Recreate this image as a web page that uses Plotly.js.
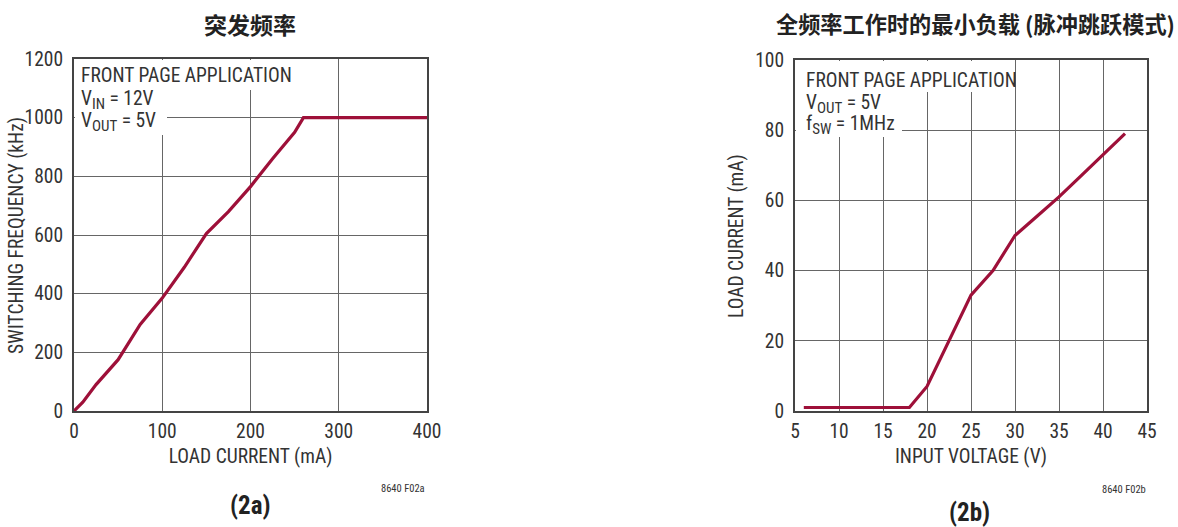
<!DOCTYPE html>
<html>
<head>
<meta charset="utf-8">
<script src="https://cdn.plot.ly/plotly-3.0.1.min.js"></script>
<style>html,body{margin:0;padding:0;background:#fff;}#chart{width:1178px;height:527px;}</style>
</head>
<body>
<div id="chart"></div>
<script>
// Chart (2a): switching frequency vs load current
const loadCurrentA = [0, 10, 25, 50, 75, 100, 125, 150, 175, 200, 225, 250, 260, 400];
const switchingFreqA = [0, 30, 90, 175, 295, 385, 490, 605, 680, 765, 860, 950, 1000, 1000];
const xTicksA = [0, 100, 200, 300, 400];
const yTicksA = [0, 200, 400, 600, 800, 1000, 1200];

// Chart (2b): minimum load current vs input voltage
const inputVoltageB = [6, 18, 20, 25, 27.5, 30, 32.5, 35, 37.5, 40, 42.5];
const loadCurrentB = [1, 1, 7, 33, 40, 50, 55.5, 61, 67, 73, 79];
const xTicksB = [5, 10, 15, 20, 25, 30, 35, 40, 45];
const yTicksB = [0, 20, 40, 60, 80, 100];

const titleA = '突发频率';
const titleB = '全频率工作时的最小负载 (脉冲跳跃模式)';

const W = 1178, H = 527;
const NARROW = '"Liberation Sans Narrow", "Arial Narrow", "Roboto Condensed", Roboto, sans-serif';
const CJK = '"Noto Sans CJK SC", "Noto Sans", sans-serif';
const TXT = '#333333';
const LINE = '#9e1039';
const GRID = '#666666';
const BORDER = '#444444';
const FS = 19.5;

const px = v => v / W;
const py = v => 1 - v / H;

const axisCommon = {
  showgrid: true, gridcolor: GRID, gridwidth: 1,
  zeroline: false,
  showline: true, linecolor: BORDER, linewidth: 2, mirror: true,
  ticks: 'outside', tickcolor: 'rgba(0,0,0,0)',
  tickfont: {family: NARROW, size: FS, color: TXT},
  fixedrange: true
};
const xCommon = Object.assign({}, axisCommon, {ticklen: 2});
const yCommon = Object.assign({}, axisCommon, {ticklen: 5});

const traces = [
  {x: loadCurrentA, y: switchingFreqA, xaxis: 'x', yaxis: 'y', mode: 'lines',
   line: {color: LINE, width: 3.2}, hoverinfo: 'skip', showlegend: false},
  {x: inputVoltageB, y: loadCurrentB, xaxis: 'x2', yaxis: 'y2', mode: 'lines',
   line: {color: LINE, width: 3.2}, hoverinfo: 'skip', showlegend: false}
];

function sub(s) { return '<sub><span style="font-size:15px">' + s + '</span></sub>'; }

function note(xref, yref, x, y, text) {
  return {xref: xref, yref: yref, x: x, y: y, text: text, showarrow: false,
    xanchor: 'left', yanchor: 'middle', align: 'left', borderpad: 0,
    font: {family: NARROW, size: FS, color: TXT}};
}

// white masks behind the in-plot notes (pixel boxes)
function mask(x0, y0, x1, y1) {
  return {type: 'rect', xref: 'paper', yref: 'paper', layer: 'above',
    x0: px(x0), x1: px(x1), y0: py(y1), y1: py(y0),
    fillcolor: '#ffffff', line: {width: 0}};
}

const layout = {
  width: W, height: H,
  margin: {l: 0, r: 0, t: 0, b: 0},
  paper_bgcolor: '#ffffff', plot_bgcolor: '#ffffff',
  showlegend: false,
  font: {family: NARROW, color: TXT},
  xaxis: Object.assign({}, xCommon, {
    domain: [px(74), px(427)], range: [0, 400], tickvals: xTicksA, anchor: 'y',
    title: {text: 'LOAD CURRENT (mA)', font: {family: NARROW, size: FS, color: TXT}, standoff: 7}
  }),
  yaxis: Object.assign({}, yCommon, {
    domain: [py(411), py(59)], range: [0, 1200], tickvals: yTicksA, anchor: 'x'
  }),
  xaxis2: Object.assign({}, xCommon, {
    domain: [px(795), px(1147)], range: [5, 45], tickvals: xTicksB, anchor: 'y2',
    title: {text: 'INPUT VOLTAGE (V)', font: {family: NARROW, size: FS, color: TXT}, standoff: 7}
  }),
  yaxis2: Object.assign({}, yCommon, {
    domain: [py(411), py(60)], range: [0, 100], tickvals: yTicksB, anchor: 'x2'
  }),
  shapes: [
    mask(75, 60, 292, 90), mask(75, 90, 167, 135),
    mask(796, 61, 1014, 92), mask(796, 92, 902, 137)
  ],
  annotations: [
    {xref: 'paper', yref: 'paper', x: px(250), y: py(24), text: '<b>' + titleA + '</b>', showarrow: false,
     xanchor: 'center', yanchor: 'middle', font: {family: CJK, size: 23, color: '#222222'}},
    {xref: 'paper', yref: 'paper', x: px(975), y: py(23), text: '<b>' + titleB + '</b>', showarrow: false,
     xanchor: 'center', yanchor: 'middle', font: {family: CJK, size: 22.2, color: '#222222'}},
    {xref: 'paper', yref: 'paper', x: px(17), y: py(236), text: 'SWITCHING FREQUENCY (kHz)', textangle: -90,
     showarrow: false, xanchor: 'center', yanchor: 'middle', font: {family: NARROW, size: FS, color: TXT}},
    {xref: 'paper', yref: 'paper', x: px(737), y: py(236), text: 'LOAD CURRENT (mA)', textangle: -90,
     showarrow: false, xanchor: 'center', yanchor: 'middle', font: {family: NARROW, size: FS, color: TXT}},
    note('x domain', 'y domain', 0.017, 0.953, 'FRONT PAGE APPLICATION'),
    note('x domain', 'y domain', 0.017, 0.884, 'V' + sub('IN') + ' = 12V'),
    note('x domain', 'y domain', 0.017, 0.822, 'V' + sub('OUT') + ' = 5V'),
    note('x2 domain', 'y2 domain', 0.028, 0.943, 'FRONT PAGE APPLICATION'),
    note('x2 domain', 'y2 domain', 0.028, 0.876, 'V' + sub('OUT') + ' = 5V'),
    note('x2 domain', 'y2 domain', 0.028, 0.815, 'f' + sub('SW') + ' = 1MHz'),
    {xref: 'paper', yref: 'paper', x: px(250), y: py(505), text: '<b>(2a)</b>', showarrow: false,
     xanchor: 'center', yanchor: 'middle', font: {family: NARROW, size: 25, color: '#222222'}},
    {xref: 'paper', yref: 'paper', x: px(969), y: py(512), text: '<b>(2b)</b>', showarrow: false,
     xanchor: 'center', yanchor: 'middle', font: {family: NARROW, size: 25, color: '#222222'}},
    {xref: 'paper', yref: 'paper', x: px(403), y: py(488), text: '8640 F02a', showarrow: false,
     xanchor: 'center', yanchor: 'middle', font: {family: NARROW, size: 10.5, color: TXT}},
    {xref: 'paper', yref: 'paper', x: px(1124), y: py(489), text: '8640 F02b', showarrow: false,
     xanchor: 'center', yanchor: 'middle', font: {family: NARROW, size: 10.5, color: TXT}}
  ]
};

Plotly.newPlot('chart', traces, layout, {displayModeBar: false, staticPlot: true});
</script>
</body>
</html>
